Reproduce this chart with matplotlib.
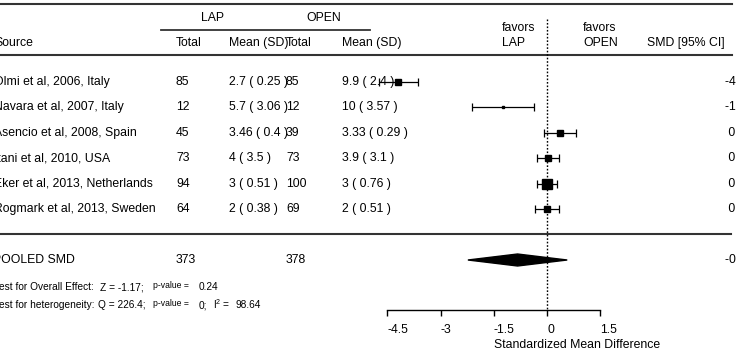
import matplotlib.pyplot as plt
from matplotlib.patches import Polygon

plt.rcParams['font.family'] = ['Liberation Sans', 'DejaVu Sans']
plt.rcParams['mathtext.fontset'] = 'custom'
plt.rcParams['mathtext.rm'] = 'Liberation Sans'

studies = ['Olmi et al, 2006, Italy', 'Navara et al, 2007, Italy', 'Asencio et al, 2008, Spain',
           'Itani et al, 2010, USA', 'Eker et al, 2013, Netherlands', 'Rogmark et al, 2013, Sweden']
n_lap = [85, 12, 45, 73, 94, 64]
mean_sd_lap = ['2.7 ( 0.25 )', '5.7 ( 3.06 )', '3.46 ( 0.4 )', '4 ( 3.5 )', '3 ( 0.51 )', '2 ( 0.38 )']
n_open = [85, 12, 39, 73, 100, 69]
mean_sd_open = ['9.9 ( 2.4 )', '10 ( 3.57 )', '3.33 ( 0.29 )', '3.9 ( 3.1 )', '3 ( 0.76 )', '2 ( 0.51 )']
smd = [-4.19, -1.25, 0.37, 0.03, 0.00, 0.00]
ci_lo = [-4.73, -2.12, -0.08, -0.29, -0.28, -0.34]
ci_hi = [-3.65, -0.38, 0.82, 0.35, 0.28, 0.34]
pooled_smd = -0.83
pooled_lo = -2.23
pooled_hi = 0.57
pooled_n_lap = 373
pooled_n_open = 378
z_val = -1.17
p_overall = 0.24
q_val = 226.4
p_het = 0
i2 = 98.64
ticks = [-4.5, -3, -1.5, 0, 1.5]

# layout in pixels (figure 736x350 at 100 dpi)
W, H = 736, 350
x0, ppu = 547, 35.47
def dx(px):
    return (px - x0) / ppu

box_ms = [4.3, 1.5, 3.8, 4.4, 6.5, 4.8]
row_y = [82 + 25.4 * i for i in range(len(studies))]
fs = 8.8
fs_small = 7.3

fig = plt.figure(figsize=(W / 100, H / 100), dpi=100)
ax = fig.add_axes([0, 0, 1, 1])
ax.set_xlim(dx(0), dx(W))
ax.set_ylim(H, 0)
ax.patch.set_visible(False)
for s in ['top', 'left', 'right']:
    ax.spines[s].set_visible(False)
ax.spines['bottom'].set_position(('data', 310))
ax.spines['bottom'].set_bounds(ticks[0], ticks[-1])
ax.spines['bottom'].set_linewidth(1.0)
ax.set_yticks([])
ax.set_xticks(ticks)
ax.set_xticklabels([f'{t:g}' for t in ticks], fontsize=fs)
ax.tick_params(axis='x', direction='out', length=4, width=1.0, pad=6)
plt.setp(ax.get_xticklabels(), ha='left')
ax.text(-1.5, 345, 'Standardized Mean Difference', fontsize=fs, ha='left', va='center')

# rules
lc = '#333333'
ax.plot([dx(-10), dx(732)], [4, 4], color=lc, lw=1.5)
ax.plot([dx(161), dx(370)], [30, 30], color=lc, lw=1.3)
ax.plot([dx(-10), dx(732)], [55, 55], color=lc, lw=1.5)
ax.plot([dx(-10), dx(731)], [234, 234], color=lc, lw=1.5)
ax.plot([0, 0], [19, 310], color='black', lw=1.0, ls=(0, (1.2, 1.3)))

# header
ax.text(dx(212), 18, 'LAP', fontsize=fs, ha='center', va='center')
ax.text(dx(323.5), 18, 'OPEN', fontsize=fs, ha='center', va='center')
ax.text(dx(-6), 43, 'Source', fontsize=fs, ha='left', va='center')
ax.text(dx(176), 43, 'Total', fontsize=fs, ha='left', va='center')
ax.text(dx(229), 43, 'Mean (SD)', fontsize=fs, ha='left', va='center')
ax.text(dx(286), 43, 'Total', fontsize=fs, ha='left', va='center')
ax.text(dx(342), 43, 'Mean (SD)', fontsize=fs, ha='left', va='center')
ax.text(dx(502), 28, 'favors', fontsize=fs, ha='left', va='center')
ax.text(dx(502), 43, 'LAP', fontsize=fs, ha='left', va='center')
ax.text(dx(583), 28, 'favors', fontsize=fs, ha='left', va='center')
ax.text(dx(583), 43, 'OPEN', fontsize=fs, ha='left', va='center')
ax.text(dx(647), 43, 'SMD [95% CI]', fontsize=fs, ha='left', va='center')

# studies
for i, y in enumerate(row_y):
    ax.text(dx(-6), y, studies[i], fontsize=fs, ha='left', va='center')
    ax.text(dx(176), y, str(n_lap[i]), fontsize=fs, ha='left', va='center')
    ax.text(dx(229), y, mean_sd_lap[i], fontsize=fs, ha='left', va='center')
    ax.text(dx(286), y, str(n_open[i]), fontsize=fs, ha='left', va='center')
    ax.text(dx(342), y, mean_sd_open[i], fontsize=fs, ha='left', va='center')
    lab = f'{smd[i]:.2f} [{ci_lo[i]:.2f}, {ci_hi[i]:.2f}]'
    if smd[i] >= 0:
        lab = ' ' + lab
    ax.text(dx(725), y, lab, fontsize=fs, ha='left', va='center')
    ax.errorbar(smd[i], y, xerr=[[smd[i] - ci_lo[i]], [ci_hi[i] - smd[i]]],
                fmt='s', color='black', ms=box_ms[i], elinewidth=0.9,
                capsize=2.6, capthick=0.9, zorder=3)

# pooled
py = 260
ax.text(dx(-7), py, 'POOLED SMD', fontsize=fs, ha='left', va='center')
ax.text(dx(176), py, str(pooled_n_lap), fontsize=fs, ha='left', va='center')
ax.text(dx(286), py, str(pooled_n_open), fontsize=fs, ha='left', va='center')
ax.text(dx(725), py, f'{pooled_smd:.2f} [{pooled_lo:.2f}, {pooled_hi:.2f}]',
        fontsize=fs, ha='left', va='center')
ax.add_patch(Polygon([(pooled_lo, py), (pooled_smd, py - 6), (pooled_hi, py),
                      (pooled_smd, py + 6)], closed=True, color='black', zorder=3))

# tests
ax.text(dx(-6), 287, 'Test for Overall Effect:', fontsize=fs_small, ha='left', va='center')
ax.text(dx(100), 287, f'Z = {z_val};', fontsize=fs_small, ha='left', va='center')
ax.text(dx(153), 285.5, 'p-value =', fontsize=6.2, ha='left', va='center')
ax.text(dx(199), 287, f'{p_overall}', fontsize=fs_small, ha='left', va='center')
ax.text(dx(-6), 305, 'Test for heterogeneity:', fontsize=fs_small, ha='left', va='center')
ax.text(dx(98), 305, f'Q = {q_val};', fontsize=fs_small, ha='left', va='center')
ax.text(dx(153), 303.5, 'p-value =', fontsize=6.2, ha='left', va='center')
ax.text(dx(199), 305, f'{p_het};', fontsize=fs_small, ha='left', va='center')
ax.text(dx(213), 304, r'$\mathregular{I^2}$ =', fontsize=fs_small, ha='left', va='center')
ax.text(dx(235), 305, f'{i2}', fontsize=fs_small, ha='left', va='center')

fig.savefig('out.png', dpi=100)
